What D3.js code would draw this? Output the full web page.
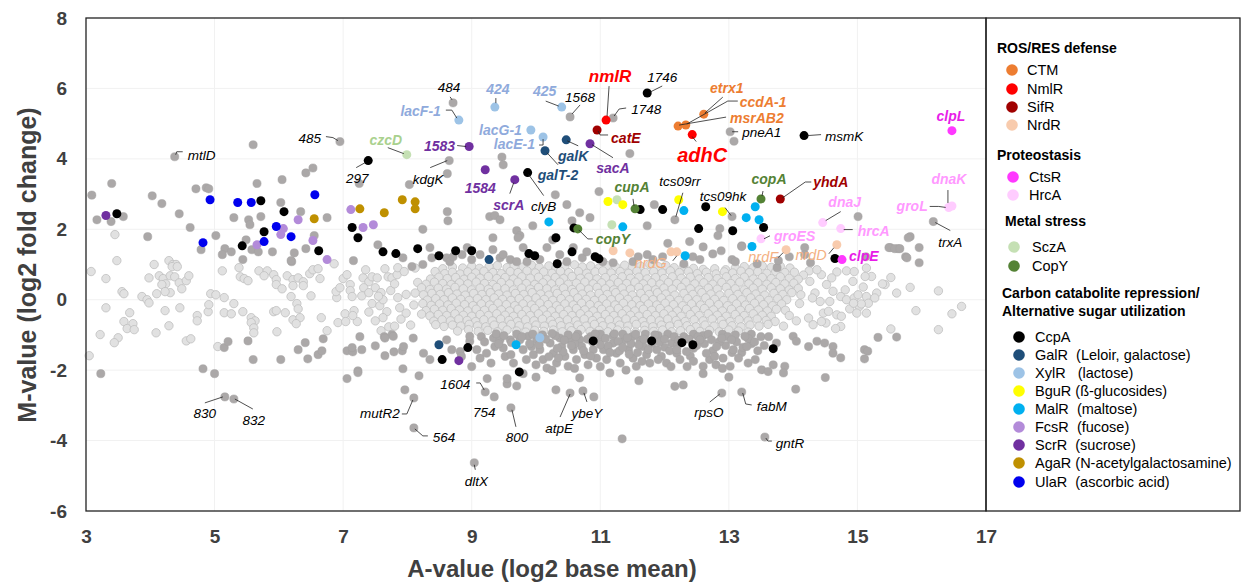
<!DOCTYPE html>
<html><head><meta charset="utf-8">
<script src="https://cdn.jsdelivr.net/npm/d3@7"></script>
<style>body{margin:0;background:#fff}svg{display:block}text{font-family:"Liberation Sans",Arial,sans-serif}</style>
</head><body><svg id="c" width="1241" height="583"></svg>
<script>
// ---------------- DATA ----------------
const xTicks=[3,5,7,9,11,13,15,17];
const yTicks=[8,6,4,2,0,-2,-4,-6];
const regulons=["CTM","NmlR","SifR","NrdR","CtsR","HrcA","SczA","CopY","CcpA","GalR","XylR","BguR","MalR","FcsR","ScrR","AgaR","UlaR"];

// light grey: not significant (A, M)
const nsLow=[[3.45,1.85],[3.48,1.11],[4.06,1.0],[4.29,1.11],[4.35,1.0],[4.4,1.0],[3.08,0.8],[3.31,0.6],[3.98,0.62],[4.14,0.68],[4.34,0.94],[4.42,0.94],[4.2,0.6],[4.24,0.45],[4.18,0.43],[4.31,0.68],[4.38,0.65],[4.45,0.48],[4.56,0.54],[4.6,0.68],[4.49,0.31],[4.31,0.2],[4.23,0.23],[4.1,0.17],[3.56,0.23],[3.59,0.17],[3.87,0.09],[3.95,0.0],[3.98,-0.09],[3.31,-0.23],[3.68,-0.37],[3.59,-0.62],[3.73,-0.68],[3.64,-0.82],[3.75,-0.85],[3.22,-0.99],[3.5,-1.08],[3.44,-1.22],[4.09,-0.94],[4.23,-0.31],[4.29,-0.74],[4.46,-0.23],[4.56,-1.17],[4.63,-1.11],[4.73,-0.45],[4.73,-0.6],[4.9,-0.34],[4.91,-0.14],[4.94,0.17],[5.02,0.14],[5.15,0.06],[5.3,-0.11],[5.15,-0.37],[5.26,-0.4],[5.44,-0.34],[5.57,-0.51],[5.63,-0.6],[5.57,-0.65],[5.61,-0.8],[5.61,-0.94],[5.05,-1.33],[5.12,0.82],[5.38,0.91],[5.4,0.65],[5.46,0.6],[5.52,0.54],[5.69,0.82],[5.82,0.82],[5.77,0.68],[5.92,0.71],[5.96,0.57],[5.96,0.43],[6.05,0.31],[6.13,0.68],[6.22,0.57],[6.22,0.4],[6.3,0.62],[6.38,0.51],[6.38,0.4],[6.19,0.09],[6.28,-0.11],[6.3,-0.26],[5.92,-0.34],[5.96,-0.31],[6.1,-0.37],[6.22,-0.57],[6.33,-0.51],[6.27,-0.68],[5.97,-0.91],[6.5,0.11],[6.48,0.74],[6.53,0.85],[6.61,0.88],[6.64,0.6],[6.66,-0.51],[6.75,-0.88],[6.86,1.02],[6.9,0.06],[6.89,0.23],[6.95,0.34],[7.0,0.6],[7.06,0.71],[7.11,0.43],[7.11,0.26],[7.14,0.09],[6.92,-0.65],[7.03,-0.4],[7.17,-0.31],[7.22,-0.62],[7.04,-0.62],[7.15,-0.45],[7.31,0.62],[7.4,0.51],[7.45,0.65],[7.53,0.62],[7.32,0.34],[7.29,0.11],[7.45,-0.11],[7.57,-0.17],[7.5,0.34],[7.59,0.2],[7.7,0.65],[7.76,0.62],[7.84,0.71],[7.85,0.91],[7.62,0.0],[7.74,0.26],[7.85,0.06],[7.88,-0.23],[7.68,-0.34],[7.62,-0.51],[7.59,-0.88],[7.71,-0.77],[3.05,-1.59],[7.35,0.85],[7.4,-0.35],[7.5,-0.6],[7.8,0.45],[7.9,-0.55],[7.95,0.8],[7.65,0.88],[7.55,0.1],[7.8,-0.75],[7.4,0.2],[8.05,-0.72],[8.12,0.9],[7.98,-0.38]];

const nsCloud=[
[8.55,0.88],[8.7,0.93],[8.86,0.9],[9.0,0.95],[9.12,0.89],[9.27,0.94],[9.4,0.97],[9.55,0.91],[9.66,0.96],[9.8,0.93],[9.93,0.98],[10.05,0.92],[10.2,0.96],[10.31,0.9],[10.45,0.95],[10.6,0.99],[10.72,0.93],[10.85,0.96],[10.98,0.9],[11.1,0.97],[11.24,0.93],[11.38,0.98],[11.5,0.92],[11.63,0.95],[11.77,1.0],[11.9,0.94],[12.02,0.97],[12.15,0.91],[12.3,0.95],[12.45,0.89],[12.6,0.86],[12.78,0.88],[12.95,0.85],[13.1,0.9],[13.24,0.94],[13.38,0.91],[13.52,0.96],[13.66,0.92],[13.8,0.95],[13.95,0.9],[14.25,0.82],
[8.43,0.8],[8.58,0.74],[8.7,0.78],[8.82,0.73],[8.94,0.79],[9.06,0.76],[9.19,0.81],[9.33,0.77],[9.46,0.74],[9.6,0.8],[9.72,0.77],[9.86,0.82],[9.99,0.76],[10.12,0.79],[10.25,0.75],[10.38,0.81],[10.51,0.77],[10.66,0.8],[10.79,0.75],[10.92,0.79],[11.04,0.82],[11.17,0.76],[11.31,0.8],[11.44,0.75],[11.57,0.81],[11.7,0.77],[11.83,0.8],[11.96,0.76],[12.09,0.82],[12.23,0.77],[12.37,0.8],[12.51,0.74],[12.65,0.78],[12.8,0.73],[12.93,0.79],[13.06,0.76],[13.19,0.81],[13.32,0.77],[13.45,0.8],[13.59,0.75],[13.73,0.8],[13.87,0.77],[14.16,0.7],
[8.36,0.59],[8.49,0.64],[8.62,0.6],[8.75,0.63],[8.88,0.58],[9.0,0.64],[9.13,0.61],[9.26,0.66],[9.39,0.6],[9.52,0.63],[9.65,0.59],[9.78,0.65],[9.91,0.61],[10.04,0.64],[10.17,0.58],[10.3,0.63],[10.43,0.6],[10.56,0.66],[10.69,0.61],[10.82,0.64],[10.95,0.59],[11.08,0.63],[11.21,0.6],[11.34,0.65],[11.47,0.61],[11.6,0.64],[11.73,0.59],[11.86,0.63],[11.99,0.6],[12.12,0.65],[12.26,0.61],[12.4,0.64],[12.54,0.59],[12.68,0.63],[12.82,0.6],[12.96,0.65],[13.1,0.6],[13.24,0.64],[13.38,0.59],[13.52,0.63],[13.66,0.6],[13.8,0.65],[13.94,0.61],[14.08,0.58],
[8.16,0.49],[8.29,0.44],[8.42,0.5],[8.55,0.46],[8.68,0.43],[8.81,0.48],[8.94,0.45],[9.07,0.5],[9.2,0.46],[9.33,0.43],[9.46,0.49],[9.59,0.45],[9.72,0.5],[9.85,0.46],[9.98,0.43],[10.11,0.48],[10.24,0.45],[10.37,0.5],[10.5,0.44],[10.63,0.47],[10.76,0.5],[10.89,0.45],[11.02,0.48],[11.15,0.44],[11.28,0.49],[11.41,0.46],[11.54,0.5],[11.67,0.45],[11.8,0.48],[11.93,0.44],[12.06,0.49],[12.19,0.46],[12.33,0.5],[12.47,0.45],[12.61,0.48],[12.75,0.44],[12.89,0.49],[13.03,0.46],[13.17,0.5],[13.31,0.45],[13.45,0.48],[13.59,0.44],[13.73,0.49],[13.87,0.45],[14.01,0.47],
[8.22,0.34],[8.35,0.29],[8.48,0.33],[8.61,0.3],[8.74,0.35],[8.87,0.31],[9.0,0.28],[9.13,0.33],[9.26,0.3],[9.39,0.35],[9.52,0.31],[9.65,0.28],[9.78,0.33],[9.91,0.3],[10.04,0.35],[10.17,0.31],[10.3,0.28],[10.43,0.33],[10.56,0.29],[10.69,0.34],[10.82,0.3],[10.95,0.35],[11.08,0.31],[11.21,0.28],[11.34,0.33],[11.47,0.3],[11.6,0.35],[11.73,0.31],[11.86,0.28],[11.99,0.33],[12.12,0.3],[12.26,0.35],[12.4,0.31],[12.54,0.28],[12.68,0.33],[12.82,0.3],[12.96,0.35],[13.1,0.31],[13.24,0.28],[13.38,0.33],[13.52,0.3],[13.66,0.34],[13.8,0.31],[13.94,0.28],[14.08,0.32],
[7.98,0.15],[8.12,0.19],[8.25,0.14],[8.38,0.18],[8.51,0.15],[8.64,0.2],[8.77,0.16],[8.9,0.13],[9.03,0.18],[9.16,0.15],[9.29,0.2],[9.42,0.16],[9.55,0.13],[9.68,0.18],[9.81,0.15],[9.94,0.2],[10.07,0.16],[10.2,0.13],[10.33,0.18],[10.46,0.15],[10.59,0.2],[10.72,0.16],[10.85,0.13],[10.98,0.18],[11.11,0.15],[11.24,0.2],[11.37,0.16],[11.5,0.13],[11.63,0.18],[11.76,0.15],[11.89,0.2],[12.02,0.16],[12.16,0.13],[12.3,0.18],[12.44,0.15],[12.58,0.2],[12.72,0.16],[12.86,0.13],[13.0,0.18],[13.14,0.15],[13.28,0.2],[13.42,0.16],[13.56,0.13],[13.7,0.18],[13.84,0.15],[13.98,0.2],[14.12,0.14],
[8.31,-0.01],[8.44,0.03],[8.57,0.0],[8.7,0.05],[8.83,0.01],[8.96,-0.02],[9.09,0.03],[9.22,0.0],[9.35,0.05],[9.48,0.01],[9.61,-0.02],[9.74,0.03],[9.87,0.0],[10.0,0.05],[10.13,0.01],[10.26,-0.02],[10.39,0.03],[10.52,0.0],[10.65,0.05],[10.78,0.01],[10.91,-0.02],[11.04,0.03],[11.17,0.0],[11.3,0.05],[11.43,0.01],[11.56,-0.02],[11.69,0.03],[11.82,0.0],[11.95,0.05],[12.08,0.01],[12.22,-0.02],[12.36,0.03],[12.5,0.0],[12.64,0.05],[12.78,0.01],[12.92,-0.02],[13.06,0.03],[13.2,0.0],[13.34,0.05],[13.48,0.01],[13.62,-0.02],[13.76,0.03],[13.9,0.0],
[8.1,-0.15],[8.24,-0.11],[8.37,-0.16],[8.5,-0.12],[8.63,-0.15],[8.76,-0.1],[8.89,-0.14],[9.02,-0.17],[9.15,-0.12],[9.28,-0.15],[9.41,-0.1],[9.54,-0.14],[9.67,-0.17],[9.8,-0.12],[9.93,-0.15],[10.06,-0.1],[10.19,-0.14],[10.32,-0.17],[10.45,-0.12],[10.58,-0.15],[10.71,-0.1],[10.84,-0.14],[10.97,-0.17],[11.1,-0.12],[11.23,-0.15],[11.36,-0.1],[11.49,-0.14],[11.62,-0.17],[11.75,-0.12],[11.88,-0.15],[12.01,-0.1],[12.14,-0.14],[12.28,-0.17],[12.42,-0.12],[12.56,-0.15],[12.7,-0.1],[12.84,-0.14],[12.98,-0.17],[13.12,-0.12],[13.26,-0.15],[13.4,-0.1],[13.54,-0.14],[13.68,-0.17],[13.82,-0.12],[14.1,-0.11],
[8.29,-0.31],[8.42,-0.27],[8.55,-0.3],[8.68,-0.25],[8.81,-0.29],[8.94,-0.32],[9.07,-0.27],[9.2,-0.3],[9.33,-0.25],[9.46,-0.29],[9.59,-0.32],[9.72,-0.27],[9.85,-0.3],[9.98,-0.25],[10.11,-0.29],[10.24,-0.32],[10.37,-0.27],[10.5,-0.3],[10.63,-0.25],[10.76,-0.29],[10.89,-0.32],[11.02,-0.27],[11.15,-0.3],[11.28,-0.25],[11.41,-0.29],[11.54,-0.32],[11.67,-0.27],[11.8,-0.3],[11.93,-0.25],[12.06,-0.29],[12.2,-0.32],[12.34,-0.27],[12.48,-0.3],[12.62,-0.25],[12.76,-0.29],[12.9,-0.32],[13.04,-0.27],[13.18,-0.3],[13.32,-0.25],[13.46,-0.29],[13.6,-0.32],[13.74,-0.27],[13.88,-0.3],
[8.22,-0.41],[8.35,-0.46],[8.48,-0.42],[8.61,-0.45],[8.74,-0.4],[8.87,-0.44],[9.0,-0.47],[9.13,-0.42],[9.26,-0.45],[9.39,-0.4],[9.52,-0.44],[9.65,-0.47],[9.78,-0.42],[9.91,-0.45],[10.04,-0.4],[10.17,-0.44],[10.3,-0.47],[10.43,-0.42],[10.56,-0.45],[10.69,-0.4],[10.82,-0.44],[10.95,-0.47],[11.08,-0.42],[11.21,-0.45],[11.34,-0.4],[11.47,-0.44],[11.6,-0.47],[11.73,-0.42],[11.86,-0.45],[11.99,-0.4],[12.12,-0.44],[12.26,-0.47],[12.4,-0.42],[12.54,-0.45],[12.68,-0.4],[12.82,-0.44],[12.96,-0.47],[13.1,-0.42],[13.24,-0.45],[13.38,-0.4],[13.52,-0.44],[13.66,-0.47],[13.94,-0.45],
[8.41,-0.61],[8.54,-0.57],[8.67,-0.6],[8.8,-0.55],[8.93,-0.59],[9.06,-0.62],[9.19,-0.57],[9.32,-0.6],[9.45,-0.55],[9.58,-0.59],[9.71,-0.62],[9.84,-0.57],[9.97,-0.6],[10.1,-0.55],[10.23,-0.59],[10.36,-0.62],[10.49,-0.57],[10.62,-0.6],[10.75,-0.55],[10.88,-0.59],[11.01,-0.62],[11.14,-0.57],[11.27,-0.6],[11.4,-0.55],[11.53,-0.59],[11.66,-0.62],[11.79,-0.57],[11.92,-0.6],[12.05,-0.55],[12.18,-0.59],[12.32,-0.62],[12.46,-0.57],[12.6,-0.6],[12.74,-0.55],[12.88,-0.59],[13.02,-0.62],[13.16,-0.57],[13.3,-0.6],[13.44,-0.55],[13.58,-0.59],[13.72,-0.62],
[8.44,-0.71],[8.57,-0.76],[8.7,-0.72],[8.83,-0.75],[8.96,-0.7],[9.09,-0.74],[9.22,-0.77],[9.35,-0.72],[9.48,-0.75],[9.61,-0.7],[9.74,-0.74],[9.87,-0.77],[10.0,-0.72],[10.13,-0.75],[10.26,-0.7],[10.39,-0.74],[10.52,-0.77],[10.65,-0.72],[10.78,-0.75],[10.91,-0.7],[11.04,-0.74],[11.17,-0.77],[11.3,-0.72],[11.43,-0.75],[11.56,-0.7],[11.69,-0.74],[11.82,-0.77],[11.95,-0.72],[12.08,-0.75],[12.21,-0.7],[12.35,-0.74],[12.49,-0.77],[12.63,-0.72],[12.77,-0.75],[12.91,-0.7],[13.05,-0.74],[13.19,-0.77],[13.33,-0.72],[13.47,-0.75],[13.61,-0.7],
[8.78,-0.89],[8.95,-0.85],[9.1,-0.9],[9.25,-0.87],[9.4,-0.91],[9.55,-0.86],[9.7,-0.89],[9.84,-0.92],[9.98,-0.87],[10.12,-0.9],[10.27,-0.86],[10.41,-0.91],[10.55,-0.88],[10.7,-0.85],[10.84,-0.9],[10.98,-0.87],[11.12,-0.91],[11.27,-0.86],[11.41,-0.89],[11.55,-0.92],[11.69,-0.87],[11.83,-0.9],[11.97,-0.86],[12.11,-0.91],[12.25,-0.88],[12.4,-0.85],[12.55,-0.9],[12.7,-0.87],[12.85,-0.91],[13.0,-0.86],[13.15,-0.89],[13.3,-0.92]];

const nsHigh=[[14.68,0.79],[14.83,0.82],[14.95,0.8],[14.93,0.52],[14.81,0.28],[14.74,0.09],[14.83,0.0],[14.95,0.05],[15.03,-0.19],[14.88,-0.26],[15.14,0.9],[15.22,0.66],[15.12,0.66],[15.09,0.36],[15.14,0.09],[15.17,-0.1],[15.06,-0.12],[15.14,-0.38],[14.99,-0.38],[14.94,-0.1],[15.01,0.14],[15.3,0.19],[15.27,0.05],[15.52,0.63],[15.43,0.43],[15.39,0.45],[15.61,0.19],[15.82,0.35],[16.26,0.25],[16.62,-0.19],[16.47,-0.4],[15.91,-0.31],[16.26,-0.85],[15.52,-0.83],[14.68,-0.43],[14.75,-0.47],[14.74,-0.76],[14.66,-0.82],[14.51,-0.66],[14.47,-0.38],[14.55,-0.33],[14.57,-0.05],[14.62,0.24],[14.52,0.43],[14.6,0.62],[14.44,0.71],[14.37,0.85],[14.26,0.52],[14.34,0.19],[14.42,-0.05],[14.44,-0.62],[14.31,-0.71],[14.24,-0.52],[14.02,0.78],[14.3,0.05],[14.05,-0.6],[13.85,-0.75]];

// dark grey: significant, other regulons (A, M)
const sigUpper=[[3.09,2.97],[3.4,3.3],[3.17,2.27],[3.39,2.22],[3.58,2.36],[4.03,2.95],[4.18,2.73],[4.71,3.15],[4.87,3.18],[4.91,3.15],[5.6,4.4],[5.66,3.3],[6.05,3.41],[6.42,3.6],[6.53,3.74],[7.25,3.3],[5.3,2.33],[5.53,2.27],[5.55,2.13],[5.72,2.36],[6.03,2.76],[6.34,2.5],[6.75,2.33],[4.45,2.44],[4.62,2.05],[5.02,1.82],[3.96,1.79],[4.79,1.42],[6.55,1.82],[7.54,1.56],[7.16,1.11],[5.16,1.45],[5.12,1.28],[5.26,1.36],[5.49,1.7],[5.58,1.42],[5.68,1.36],[5.9,1.36],[6.24,1.33],[6.42,1.45],[6.2,1.08],[5.44,1.14],[6.19,1.11],[8.62,2.5],[8.63,2.24],[8.24,2.0],[8.03,3.27],[8.62,3.58],[9.47,4.05],[9.49,3.83],[11.46,4.15],[10.3,2.98],[10.98,3.07],[9.28,2.36],[9.36,2.39],[9.44,2.27],[9.33,1.76],[9.7,1.96],[9.75,1.82],[9.95,2.1],[10.48,2.7],[10.68,2.47],[10.84,2.33],[10.56,2.24],[11.73,2.1],[11.84,2.7],[13.08,4.5],[12.86,2.02],[12.83,1.82],[13.2,1.53],[14.18,1.48],[15.01,2.36],[15.82,1.79],[15.51,1.48],[15.63,1.45],[15.75,1.22],[15.96,1.48],[15.79,1.76],[15.49,1.48],[15.58,1.45],[15.66,1.45],[15.77,1.19],[15.96,1.05],[15.13,1.22],[14.18,1.28],[14.27,1.05],[12.88,1.39],[13.05,1.14],[13.1,1.08],[13.2,1.51],[13.44,1.02],[13.75,0.91],[13.77,1.11],[13.94,1.22],
[7.93,1.19],[8.07,0.94],[8.24,1.0],[8.35,1.48],[8.38,1.19],[8.61,1.19],[8.66,1.08],[8.71,1.22],[8.85,1.28],[8.93,1.48],[9.0,1.14],[9.13,1.28],[9.33,1.42],[9.44,1.19],[9.49,1.28],[9.6,1.14],[9.7,1.08],[9.72,1.76],[9.8,1.48],[9.86,1.08],[10.06,1.14],[10.17,1.48],[10.26,1.7],[10.37,1.28],[10.48,1.08],[10.58,1.48],[10.72,1.19],[10.79,1.36],[11.04,1.08],[11.2,1.05],[11.51,1.08],[11.59,1.22],[11.73,1.28],[11.82,1.14],[11.97,1.22],[12.39,1.65],[12.44,1.22],[12.55,1.14],[12.05,1.6],[12.6,1.5],[12.75,1.3],[12.3,1.02]];

const sigLower=[[3.23,-2.1],[4.82,-1.96],[5.0,-2.1],[5.15,-1.36],[5.21,-1.19],[5.52,-1.17],[5.6,-1.7],[6.03,-1.7],[6.3,-1.42],[6.41,-1.22],[6.61,-1.56],[6.67,-1.45],[6.69,-1.11],[6.45,-1.68],[7.06,-1.45],[7.15,-1.48],[7.14,-1.36],[7.26,-1.05],[7.29,-1.42],[7.5,-1.31],[7.65,-1.59],[7.79,-1.48],[7.64,-1.05],[7.76,-0.99],[7.92,-1.45],[7.06,-2.24],[7.23,-2.02],[7.23,-2.07],
[7.65,-1.09],[7.78,-1.04],[7.94,-1.33],[8.09,-1.09],[8.25,-1.52],[8.35,-1.7],[8.61,-1.14],[8.69,-1.42],[8.82,-1.47],[8.84,-1.61],[8.97,-1.18],[8.97,-1.04],[9.08,-1.42],[9.13,-1.66],[9.23,-1.52],[9.34,-1.09],[9.36,-1.33],[9.44,-1.14],[9.49,-1.37],[9.52,-1.61],[9.6,-1.14],[9.61,-1.56],[9.65,-1.8],[9.75,-1.14],[9.8,-1.42],[9.85,-1.7],[9.88,-1.04],[9.93,-1.33],[9.96,-1.56],[10.01,-1.14],[10.06,-1.42],[10.11,-1.7],[10.17,-1.94],[10.22,-1.23],[10.27,-1.52],[10.32,-1.8],[10.37,-1.09],[10.4,-1.33],[10.45,-1.61],[10.5,-1.89],[10.53,-1.14],[10.58,-1.42],[10.63,-1.7],[10.68,-1.14],[10.71,-1.33],[10.76,-1.56],[10.81,-1.85],[10.89,-1.42],[10.94,-1.66],[10.99,-1.14],[11.05,-1.42],[11.1,-1.7],[11.15,-2.08],[11.2,-1.23],[11.25,-1.52],[11.31,-1.8],[11.38,-1.14],[11.44,-1.42],[11.51,-1.66],[11.56,-1.89],[11.62,-1.14],[11.67,-1.33],[11.72,-1.56],[11.77,-1.8],[11.82,-1.14],[11.88,-1.42],[11.95,-1.61],[12.03,-1.8],[12.11,-1.23],[12.19,-1.52],[12.24,-1.7],
[9.7,-0.98],[9.9,-1.25],[10.1,-1.0],[10.3,-1.02],[10.5,-1.0],[10.65,-0.98],[10.85,-1.05],[11.0,-0.98],[11.2,-1.02],[11.35,-0.98],[11.5,-1.05],[11.7,-0.98],[11.9,-1.02],[12.05,-0.98],[12.3,-1.05],[12.45,-0.98],[12.6,-1.02],[12.9,-0.98],[13.1,-1.0],[13.35,-0.98],[13.5,-1.05],[10.2,-1.62],[10.42,-1.48],[10.6,-1.25],[10.88,-1.2],[11.12,-1.32],[11.3,-1.45],[11.48,-1.25],[11.58,-1.5],[11.8,-1.25],[12.0,-1.35],[12.2,-1.3],[12.4,-1.6],[12.5,-1.3],[12.7,-1.7],[12.95,-1.3],[13.2,-1.5],[13.35,-1.25],[13.45,-1.45],[10.0,-1.85],[10.25,-2.0],[10.6,-1.95],[11.0,-1.9],[11.4,-2.0],[11.65,-1.75],[12.35,-1.9],[12.8,-1.85],[9.3,-1.8],[9.0,-1.9],
[9.38,-0.97],[9.5,-1.02],[9.62,-1.22],[9.78,-1.05],[9.95,-0.98],[10.05,-1.28],[10.15,-1.12],[10.25,-0.96],[10.33,-1.38],[10.44,-1.15],[10.55,-1.3],[10.62,-1.05],[10.74,-1.45],[10.8,-1.12],[10.92,-0.97],[11.0,-1.28],[11.08,-1.1],[11.15,-1.5],[11.22,-0.97],[11.28,-1.18],[11.35,-1.35],[11.42,-1.08],[11.55,-0.98],[11.6,-1.28],[11.68,-1.12],[11.75,-1.42],[11.85,-1.0],[11.92,-1.2],[12.0,-1.12],[12.08,-1.45],[12.15,-1.05],[12.22,-1.15],[12.38,-1.12],[12.45,-1.38],[12.52,-1.05],[12.62,-1.25],[12.68,-0.98],[12.75,-1.45],[12.85,-1.2],[12.98,-1.05],[13.05,-1.5],[13.12,-1.2],[13.22,-1.35],[13.3,-1.1],[13.4,-1.2],[13.55,-1.3],[13.62,-1.05],[9.42,-1.25],[9.15,-1.05],[9.2,-1.2],[10.35,-1.65],[10.85,-1.6],[11.45,-1.55],[11.9,-1.7],[12.1,-1.9],[12.45,-1.75],[12.9,-1.95],[13.3,-1.8],
[12.19,-1.42],[12.34,-1.47],[12.55,-1.14],[12.65,-1.52],[12.73,-1.14],[12.81,-1.33],[12.89,-1.09],[12.91,-1.66],[13.04,-1.14],[13.07,-1.42],[13.15,-1.66],[13.25,-1.04],[13.28,-1.33],[12.6,-1.89],[12.78,-1.61],[13.02,-1.89],[13.41,-1.7],[13.51,-1.99],[13.61,-2.04],[13.69,-1.85],[13.87,-1.89],[13.85,-2.08],[13.74,-1.23],[14.0,-1.04],[14.05,-1.18],[14.24,-1.33],[14.37,-1.18],[14.49,-1.23],[14.62,-1.33],[14.62,-1.52],[14.74,-1.65],[15.11,-1.42],[15.16,-1.46],[15.11,-1.68],[15.32,-1.07],[15.61,-1.06],
[7.93,-1.96],[8.18,-2.16],[7.96,-2.56],[9.24,-2.24],[9.55,-2.39],[9.55,-2.24],[9.7,-2.45],[9.8,-2.1],[10.0,-2.2],[10.31,-2.56],[10.68,-2.22],[10.9,-2.76],[11.34,-3.95],[12.16,-2.46],[12.29,-2.42],[14.04,-2.54],[14.5,-2.21],[13.0,-2.2],[12.6,-2.1],[11.6,-2.3]];

// labelled grey points: [A, M, label]
const greyLabelled=[[4.38,4.06,"mtlD"],[6.95,4.49,"485"],[8.71,5.59,"484"],[10.53,5.19,"1568"],[11.2,5.16,"1748"],[8.65,3.95,"kdgK"],[13.02,4.77,"pneA1"],[12.16,2.27,"tcs09rr"],[13.05,2.36,"tcs09hk"],[16.18,2.22,"trxA"],[5.16,-2.76,"830"],[5.3,-2.82,"832"],[8.1,-2.79,"mutR2"],[8.1,-3.64,"564"],[9.21,-2.62,"1604"],[9.35,-2.76,"754"],[9.61,-3.07,"800"],[10.53,-2.65,"atpE"],[10.73,-2.59,"ybeY"],[9.04,-4.63,"dltX"],[12.89,-2.65,"rpsO"],[13.2,-2.62,"fabM"],[13.56,-3.9,"gntR"]];

// regulon members: [regulon, A, M, label]
const regulonPoints=[
["CTM",12.21,4.93,"msrAB2"],["CTM",12.33,4.96,"ccdA-1"],["CTM",12.61,5.27,"etrx1"],
["NmlR",11.09,5.1,"nmlR"],["NmlR",12.43,4.69,"adhC"],
["SifR",10.95,4.82,"catE"],["SifR",13.8,2.86,"yhdA"],
["NrdR",11.2,1.39],["NrdR",11.46,1.33],["NrdR",12.1,1.36],["NrdR",12.19,1.36,"nrdG"],["NrdR",13.89,1.42,"nrdF"],["NrdR",14.68,1.56,"nrdD"],
["CtsR",16.47,4.8,"clpL"],
["HrcA",13.5,1.73,"groES"],["HrcA",14.46,2.19,"dnaJ"],["HrcA",14.74,2.02,"hrcA"],["HrcA",16.42,2.62,"groL"],["HrcA",16.47,2.66,"dnaK"],
["SczA",7.99,4.12,"czcD"],["SczA",11.26,2.84],["SczA",11.18,2.13],
["CcpA",7.39,3.95,"297"],["CcpA",9.87,3.61,"clyB"],["CcpA",11.73,5.87,"1746"],["CcpA",14.17,4.66,"msmK"],["CcpA",3.48,2.44],["CcpA",5.72,2.81],["CcpA",6.08,2.5],["CcpA",5.77,1.93],["CcpA",5.43,1.53],["CcpA",6.62,1.39],["CcpA",7.14,2.05],["CcpA",7.23,1.76],["CcpA",7.62,1.36],["CcpA",7.82,1.31],["CcpA",11.62,2.56],["CcpA",11.97,2.56],["CcpA",12.64,2.64],["CcpA",12.53,2.02],["CcpA",13.06,1.96],["CcpA",13.54,2.05],["CcpA",14.65,1.17],["CcpA",10.31,1.76],["CcpA",10.59,2.04],["CcpA",8.16,1.45],["CcpA",8.49,1.25],["CcpA",8.75,1.39],["CcpA",9.0,1.39],["CcpA",9.89,1.31],["CcpA",9.98,1.25],["CcpA",10.33,1.02],["CcpA",10.56,1.36],["CcpA",10.92,1.22],["CcpA",10.98,1.16],["CcpA",12.27,-1.22],["CcpA",12.44,-1.28],["CcpA",13.69,-1.39],["CcpA",10.89,-1.17],["CcpA",11.8,-1.17],["CcpA",8.94,-1.36],["CcpA",8.54,-1.7],["CcpA",9.74,-2.05],
["GalR",10.47,4.54,"galK"],["GalR",10.14,4.23,"galT-2"],["GalR",9.27,1.14],["GalR",8.49,-1.28],
["XylR",8.8,5.1,"lacF-1"],["XylR",9.36,5.47,"424"],["XylR",10.4,5.47,"425"],["XylR",9.92,4.82,"lacG-1"],["XylR",10.11,4.62,"lacE-1"],["XylR",10.06,-1.08],
["BguR",11.12,2.79],["BguR",11.35,2.7],["BguR",12.22,2.84],["BguR",12.9,2.5],
["MalR",10.2,2.21],["MalR",11.35,2.07],["MalR",12.3,2.53],["MalR",13.27,2.33],["MalR",13.41,2.64],["MalR",13.47,2.27],["MalR",13.36,1.51],["MalR",12.32,1.25],["MalR",9.69,-1.28],
["FcsR",7.12,2.56],["FcsR",6.3,2.27],["FcsR",7.31,2.05],["FcsR",7.47,2.13],["FcsR",6.07,2.02],["FcsR",6.03,1.85],["FcsR",5.66,1.56],["FcsR",6.53,1.68],["FcsR",6.75,1.14],
["ScrR",8.96,4.35,"1583"],["ScrR",9.21,3.69,"1584"],["ScrR",9.67,3.41,"scrA"],["ScrR",10.84,4.43,"sacA"],["ScrR",3.31,2.39],["ScrR",8.8,-1.73],
["AgaR",6.55,2.3],["AgaR",7.26,2.58],["AgaR",7.64,2.47],["AgaR",7.92,2.84],["AgaR",8.12,2.78],["AgaR",8.12,2.58],
["UlaR",4.93,2.84],["UlaR",5.36,2.76],["UlaR",5.57,2.76],["UlaR",6.56,2.98],["UlaR",5.96,2.08],["UlaR",6.19,1.79],["UlaR",4.82,1.62],["UlaR",5.77,1.65],
["CopY",11.54,2.58,"cupA"],["CopY",10.65,2.01,"copY"],["CopY",13.5,2.86,"copA"],
["CtsR",14.76,1.14,"clpE"]];

const legendGroups=[
 {title:["ROS/RES defense"],items:[["CTM","CTM"],["NmlR","NmlR"],["SifR","SifR"],["NrdR","NrdR"]]},
 {title:["Proteostasis"],items:[["CtsR","CtsR"],["HrcA","HrcA"]]},
 {title:["Metal stress"],items:[["SczA","SczA"],["CopY","CopY"]]},
 {title:["Carbon catabolite repression/","Alternative sugar utilization"],items:[["CcpA","CcpA"],["GalR","GalR  (Leloir, galactose)"],["XylR","XylR   (lactose)"],["BguR","BguR (ß-glucosides)"],["MalR","MalR  (maltose)"],["FcsR","FcsR  (fucose)"],["ScrR","ScrR  (sucrose)"],["AgaR","AgaR (N-acetylgalactosamine)"],["UlaR","UlaR  (ascorbic acid)"]]}];

// ---------------- STYLE / LAYOUT ----------------
const colors={CTM:"#ED7D31",NmlR:"#FF0000",SifR:"#A00000",NrdR:"#F8CBAD",CtsR:"#FF38FF",HrcA:"#FFCCFF",SczA:"#C5E0B4",CopY:"#548235",CcpA:"#000000",GalR:"#1F4E79",XylR:"#9DC3E6",BguR:"#FFFF00",MalR:"#00B0F0",FcsR:"#B38BD9",ScrR:"#7030A0",AgaR:"#BF9000",UlaR:"#0000EE"};
const labelColors={CTM:"#ED7D31",NmlR:"#FF0000",SifR:"#A00000",NrdR:"#F4B183",CtsR:"#E81CE8",HrcA:"#FF99FF",SczA:"#A9D18E",CopY:"#548235",CcpA:"#000",GalR:"#1F4E79",XylR:"#8FAADC",ScrR:"#7030A0"};
const boldRegs=new Set(["CTM","NmlR","SifR","CtsR","SczA","CopY","GalR","XylR","ScrR","HrcA"]);
const L={
"mtlD":[13,3,"start",[[1,-2],[2,-5],[8,-5]]],"485":[-19,1,"end",[[-14,-5],[-7,-4],[-2,-1]]],"297":[-11,22,"middle",[[-3,2],[-12,7]]],
"484":[-4,-11,"middle",[[-3,-6],[-1,-3]]],"lacF-1":[-18,-4,"end",[[-13,-10],[-7,-10],[-2,-2]]],"424":[3,-13,"middle",[[1,-9],[1,-4]]],
"425":[-17,-11,"middle",[[-16,-6],[-3,-1]]],"1568":[10,-15,"middle",[[10,-12],[2,-3]]],"1746":[15,-11,"middle",[[15,-7],[3,-1]]],
"1748":[18,-4,"start",[[13,-10],[6,-9],[1,-2]]],"nmlR":[4,-38,"middle",[[3,-34],[1,-4]]],"catE":[14,13,"start",[[1,1],[3,5],[11,5]]],
"lacG-1":[-9,5,"end",null],"lacE-1":[-8,12,"end",[[-4,8],[0,8],[0,2]]],"galK":[7,21,"middle",[[1,1],[12,6]]],
"galT-2":[13,29,"middle",[[2,2],[13,14]]],"sacA":[23,29,"middle",[[2,1],[23,14]]],"1583":[-14,4,"end",[[-12,-1],[-3,0]]],
"czcD":[-21,-10,"middle",[[-19,-7],[-3,-1]]],"kdgK":[-21,23,"middle",[[-19,7],[-2,0]]],"1584":[-5,23,"middle",null],
"scrA":[-6,30,"middle",[[-1,3],[-5,14]]],"clyB":[16,38,"middle",[[1,2],[16,23]]],"etrx1":[23,-21,"middle",[[19,-17],[1,-1]]],
"ccdA-1":[54,-18,"start",[[52,-24],[42,-24],[1,-1]]],"msrAB2":[52,-3,"start",[[48,-9],[1,-1]]],"adhC":[10,27,"middle",[[0,2],[4,7]]],
"pneA1":[12,5,"start",[[2,0],[8,0]]],"msmK":[21,5,"start",[[3,0],[17,-1]]],"clpL":[-1,-10,"middle",null],
"copA":[8,-15,"middle",[[1,-3],[2,-8]]],"yhdA":[33,-12,"start",[[2,-1],[25,-17],[31,-17]]],"tcs09rr":[5,-34,"middle",[[8,-27],[1,-3]]],
"tcs09hk":[-9,-16,"middle",[[-7,-9],[-1,-1]]],"groES":[13,2,"start",[[3,0],[9,-3]]],"dnaJ":[22,-16,"middle",[[3,-2],[18,-11]]],
"hrcA":[17,7,"start",[[3,1],[12,1]]],"groL":[-21,4,"end",[[-19,-1],[-10,-1],[-3,0]]],"dnaK":[-3,-22,"middle",[[-4,-16],[-4,-3]]],
"trxA":[17,25,"middle",[[2,1],[17,9]]],"nrdG":[-10,16,"end",[[-4,9],[0,4]]],"nrdF":[-8,12,"end",[[-8,8],[-3,3]]],
"nrdD":[-10,15,"end",[[-8,9],[-3,3]]],"clpE":[7,1,"start",null],"cupA":[-3,-17,"middle",[[-2,-10],[-1,-3]]],
"copY":[18,15,"start",[[1,1],[10,10],[15,10]]],"830":[-20,21,"middle",[[-2,0],[-20,6]]],"832":[20,26,"middle",[[1,0],[19,10]]],
"mutR2":[-14,20,"end",[[-12,16],[-7,16],[-1,2]]],"564":[19,14,"start",[[1,1],[9,8],[14,8]]],"1604":[-15,-3,"end",[[-9,-9],[-5,-9],[-1,-2]]],
"754":[-10,20,"middle",null],"800":[6,34,"middle",[[1,2],[5,19]]],"atpE":[-11,40,"middle",[[0,1],[-10,24]]],
"ybeY":[4,27,"middle",[[1,2],[4,11]]],"dltX":[2,23,"middle",[[0,2],[1,7]]],"rpsO":[-13,24,"middle",[[-2,1],[-12,9]]],
"fabM":[15,19,"start",[[1,1],[4,12],[10,13]]],"gntR":[11,11,"start",[[1,1],[3,4],[7,4]]]};
const sizeOverride={nmlR:17,adhC:20,nrdG:14.5,nrdF:14.5,nrdD:14.5};

// ---------------- DRAW ----------------
const svg=d3.select("#c");
const X0=86,X1=986,Y0=18,Y1=511;
const x=d3.scaleLinear().domain([3,17]).range([X0,X1]);
const y=d3.scaleLinear().domain([-6,8]).range([Y1,Y0]);

const grid=svg.append("g").attr("stroke","#F1F1F1").attr("stroke-width",1);
grid.selectAll("line.v").data(xTicks.slice(1,-1)).join("line").attr("x1",d=>x(d)).attr("x2",d=>x(d)).attr("y1",Y0).attr("y2",Y1);
grid.selectAll("line.h").data(yTicks.slice(1,-1)).join("line").attr("y1",d=>y(d)).attr("y2",d=>y(d)).attr("x1",X0).attr("x2",X1);

const pts=svg.append("g");
pts.selectAll("circle.ns").data(nsLow.concat(nsCloud,nsHigh)).join("circle")
 .attr("cx",d=>x(d[0])).attr("cy",d=>y(d[1])).attr("r",4.2).attr("fill","#E1E1E1").attr("stroke","#BFBFBF").attr("stroke-width",0.8);
pts.selectAll("circle.sig").data(sigUpper.concat(sigLower,greyLabelled)).join("circle")
 .attr("cx",d=>x(d[0])).attr("cy",d=>y(d[1])).attr("r",4.1).attr("fill","#ABA8A8").attr("stroke","#A3A0A0").attr("stroke-width",0.5);
pts.selectAll("circle.reg").data(regulonPoints).join("circle")
 .attr("cx",d=>x(d[1])).attr("cy",d=>y(d[2])).attr("r",4.5).attr("fill",d=>colors[d[0]]);

// labels
const lab=svg.append("g");
const labelled=[];
greyLabelled.forEach(d=>labelled.push({a:d[0],m:d[1],t:d[2],col:"#000",bold:false}));
regulonPoints.filter(d=>d[3]).forEach(d=>labelled.push({a:d[1],m:d[2],t:d[3],col:labelColors[d[0]]||colors[d[0]],bold:boldRegs.has(d[0])}));
labelled.forEach(o=>{
 const s=L[o.t]; const px=x(o.a), py=y(o.m);
 if(s[3]) lab.append("path").attr("d",d3.line()(s[3].map(p=>[px+p[0],py+p[1]]))).attr("fill","none").attr("stroke","#222").attr("stroke-width",0.8);
 lab.append("text").attr("x",px+s[0]).attr("y",py+s[1]).attr("text-anchor",s[2])
  .attr("font-size",sizeOverride[o.t]||(o.bold?14:13.5)).attr("font-style","italic").attr("font-weight",o.bold?"bold":"normal")
  .attr("fill",o.col).text(o.t);
});

// frame
svg.append("rect").attr("x",X0).attr("y",Y0).attr("width",X1-X0).attr("height",Y1-Y0).attr("fill","none").attr("stroke","#222").attr("stroke-width",1.3);
svg.append("rect").attr("x",X1).attr("y",Y0).attr("width",1240-X1).attr("height",Y1-Y0).attr("fill","none").attr("stroke","#222").attr("stroke-width",1.3);

// axes
const tickFont=g=>g.selectAll("text").attr("font-size",19).attr("font-weight","bold").attr("fill","#404040").attr("font-family","'Liberation Sans',Arial,sans-serif");
svg.append("g").attr("transform",`translate(${X0},0)`).call(d3.axisLeft(y).tickValues(yTicks).tickFormat(d=>String(d)).tickSize(0).tickPadding(19))
 .call(g=>g.select(".domain").remove()).call(tickFont);
svg.append("g").attr("transform",`translate(0,${Y1})`).call(d3.axisBottom(x).tickValues(xTicks).tickFormat(d=>String(d)).tickSize(0).tickPadding(19))
 .call(g=>g.select(".domain").remove()).call(tickFont);
svg.append("text").attr("transform","translate(36,265) rotate(-90)").attr("text-anchor","middle").attr("font-size",25).attr("font-weight","bold").attr("fill","#404040").text("M-value (log2 fold change)");
svg.append("text").attr("x",552).attr("y",577).attr("text-anchor","middle").attr("font-size",24).attr("font-weight","bold").attr("fill","#404040").text("A-value (log2 base mean)");

// legend
const legendLayout=[{tx:997,ty:[53],cx:1012,lx:1027,ys:[70,89,107,125]},{tx:997,ty:[160],cx:1013,lx:1029,ys:[177,195]},{tx:1005,ty:[226],cx:1014,lx:1032,ys:[247,266]},{tx:1002,ty:[298,316],cx:1019,lx:1035,ys:[337,355,373,391,409,427,445,463,482]}];
const lg=svg.append("g");
legendGroups.forEach((g,i)=>{
 const ly=legendLayout[i];
 g.title.forEach((t,j)=>lg.append("text").attr("x",ly.tx).attr("y",ly.ty[j]).attr("font-size",14).attr("font-weight","bold").attr("fill","#000").text(t));
 g.items.forEach((it,j)=>{
  lg.append("circle").attr("cx",ly.cx).attr("cy",ly.ys[j]).attr("r",5.8).attr("fill",colors[it[0]]);
  lg.append("text").attr("x",ly.lx).attr("y",ly.ys[j]+5).attr("font-size",14.5).attr("fill","#000").style("white-space","pre").text(it[1]);
 });
});
</script></body></html>
